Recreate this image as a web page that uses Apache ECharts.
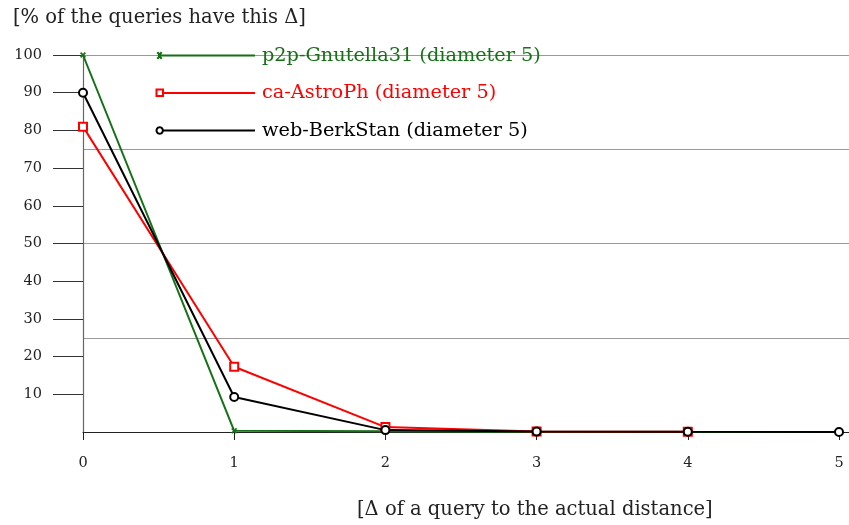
<!DOCTYPE html>
<html><head><meta charset="utf-8">
<script src="https://cdn.jsdelivr.net/npm/echarts@6/dist/echarts.min.js"></script>
<style>html,body{margin:0;padding:0;background:#fff}#c{width:849px;height:525px}</style>
</head><body><div id="c"></div>
<script>
const xValues = [0, 1, 2, 3, 4, 5];
const yTicks = [10, 20, 30, 40, 50, 60, 70, 80, 90, 100];
const seriesNames = ['p2p-Gnutella31 (diameter 5)', 'ca-AstroPh (diameter 5)', 'web-BerkStan (diameter 5)'];
const gnutella = [100, 0.3, 0.2, 0.05, 0.03, 0.02];
const astroph = [81, 17.3, 1.3, 0.1, 0.05, null];
const berkstan = [90, 9.3, 0.5, 0.1, 0.05, 0.02];
const yTitle = '[% of the queries have this Δ]';
const xTitle = '[Δ of a query to the actual distance]';

const FONT = 'DejaVu Serif';
const GREEN = '#167016', RED = '#ff0000', BLACK = '#000000';
const crossPath = 'path://M0,2L2,0L5,3L8,0L10,2L7,5L10,8L8,10L5,7L2,10L0,8L3,5Z';
const bboxPts = 'M0,0L0.01,0L0.01,0.01ZM0,10L0.01,10L0.01,9.99Z';
function ring(cx, cy, r, ccw) {
  let p = '';
  const n = 24;
  for (let i = 0; i < n; i++) {
    const a = (ccw ? -1 : 1) * i * 2 * Math.PI / n;
    p += (i ? 'L' : 'M') + (cx + r * Math.cos(a)).toFixed(2) + ',' + (cy + r * Math.sin(a)).toFixed(2);
  }
  return p + 'Z';
}
const legCross = 'path://' + bboxPts + 'M4,4L100,4L100,6L4,6Z' +
  'M1.5,2.5L3,1L4.5,2.5L6,1L7.5,2.5L6,4L6,6L7.5,7.5L6,9L4.5,7.5L3,9L1.5,7.5L3,6L3,4Z';
const legSquare = 'path://' + bboxPts + 'M9,4L100,4L100,6L9,6Z' +
  'M0.5,0.5L9,0.5L9,9L0.5,9ZM2.5,2.5L2.5,7L7,7L7,2.5Z';
const legCircle = 'path://' + bboxPts + 'M8.5,4L100,4L100,6L8.5,6Z' +
  ring(4.7, 5, 4.2, false) + ring(4.7, 5, 2.2, true);

const mk = (arr) => xValues.map((x, i) => arr[i] == null ? null : [x, arr[i]]).filter(d => d);
const chart = echarts.init(document.getElementById('c'), null, {renderer: 'canvas'});
chart.setOption({
  animation: false,
  backgroundColor: '#fff',
  textStyle: {fontFamily: FONT},
  title: [
    {text: yTitle, left: 8, top: 3, textStyle: {fontFamily: FONT, fontWeight: 'normal', fontSize: 19.5, color: '#222'}},
    {text: xTitle, left: 352, top: 495, textStyle: {fontFamily: FONT, fontWeight: 'normal', fontSize: 19.5, color: '#222'}}
  ],
  grid: {left: 83, right: 0, top: 55, bottom: 93, containLabel: false},
  legend: {
    orient: 'vertical', left: 150, top: 41, itemWidth: 100, itemHeight: 10, itemGap: 18.5,
    textStyle: {fontFamily: FONT, fontSize: 19.3, padding: [0, 0, 0, 2]},
    data: [
      {name: seriesNames[0], icon: legCross, textStyle: {color: GREEN}, itemStyle: {color: GREEN, borderWidth: 0}},
      {name: seriesNames[1], icon: legSquare, textStyle: {color: RED}, itemStyle: {color: RED, borderWidth: 0}},
      {name: seriesNames[2], icon: legCircle, textStyle: {color: BLACK}, itemStyle: {color: BLACK, borderWidth: 0}}
    ]
  },
  xAxis: {
    type: 'value', min: 0, max: 5 + 10 / 151.2,
    axisLine: {show: true, onZero: false, lineStyle: {color: '#222', width: 1}},
    axisTick: {show: true, customValues: xValues, length: 8, lineStyle: {color: '#222'}},
    axisLabel: {customValues: xValues, margin: 24, fontFamily: FONT, fontSize: 14.5, color: '#222'},
    splitLine: {show: false}
  },
  yAxis: [{
    type: 'value', min: 0, max: 100, interval: 10,
    axisLine: {show: true, lineStyle: {color: '#666', width: 1.2}},
    axisTick: {show: true, customValues: yTicks, length: 30, lineStyle: {color: '#333'}},
    axisLabel: {customValues: yTicks, margin: 41, fontFamily: FONT, fontSize: 14.5, color: '#222'},
    splitLine: {show: false}
  }, {
    type: 'value', min: 0, max: 100, position: 'left', interval: 25,
    axisLine: {show: false}, axisTick: {show: false}, axisLabel: {show: false},
    splitLine: {show: true, lineStyle: {color: '#999', width: 1}}
  }],
  series: [
    {name: seriesNames[0], type: 'line', data: mk(gnutella), color: GREEN,
     symbol: crossPath, symbolSize: 6, showAllSymbol: true,
     lineStyle: {color: GREEN, width: 2}, itemStyle: {color: GREEN, borderWidth: 0}, z: 2},
    {name: seriesNames[1], type: 'line', data: mk(astroph), color: RED,
     symbol: 'rect', symbolSize: 8,
     lineStyle: {color: RED, width: 2}, itemStyle: {color: '#fff', borderColor: RED, borderWidth: 2}, z: 3},
    {name: seriesNames[2], type: 'line', data: mk(berkstan), color: BLACK,
     symbol: 'circle', symbolSize: 8,
     lineStyle: {color: BLACK, width: 2}, itemStyle: {color: '#fff', borderColor: BLACK, borderWidth: 2}, z: 4}
  ]
});
</script></body></html>
